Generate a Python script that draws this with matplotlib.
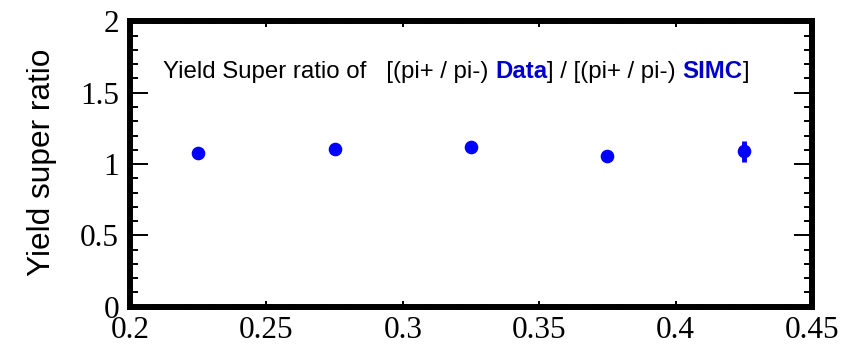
import matplotlib
matplotlib.use("Agg")
import matplotlib.pyplot as plt
from matplotlib.ticker import MultipleLocator, FuncFormatter

# Data
x_vals = [0.225, 0.275, 0.325, 0.375, 0.425]
y_vals = [1.076, 1.102, 1.123, 1.053, 1.088]
y_errs = [0.01, 0.01, 0.01, 0.01, 0.074]
x_ticks = [0.2, 0.25, 0.3, 0.35, 0.4, 0.45]
y_ticks = [0, 0.5, 1, 1.5, 2]
ylabel = "Yield super ratio"
title_parts = [("Yield Super ratio of   [(pi+ / pi-) ", "normal", "black"),
               ("Data", "bold", "#0000CC"),
               ("] / [(pi+ / pi-) ", "normal", "black"),
               ("SIMC", "bold", "#0000CC"),
               ("]", "normal", "black")]

fig = plt.figure(figsize=(8.48, 3.48), dpi=100)
ax = fig.add_axes([130/848, 1 - 306.7/348, (812-130)/848, (306.7-21.4)/348])

ax.errorbar(x_vals, y_vals, yerr=y_errs, fmt='o', color='#0000FF',
            markersize=8.8, elinewidth=3.5, capsize=0, zorder=3)

ax.set_xlim(0.2, 0.45)
ax.set_ylim(0, 2)
ax.set_xticks(x_ticks)
ax.set_yticks(y_ticks)
ax.xaxis.set_minor_locator(MultipleLocator(0.01))
ax.yaxis.set_minor_locator(MultipleLocator(0.1))
fmt = FuncFormatter(lambda v, p: "%g" % round(v, 4))
ax.xaxis.set_major_formatter(fmt)
ax.yaxis.set_major_formatter(fmt)

for s in ax.spines.values():
    s.set_linewidth(4.3)

ax.tick_params(axis='x', which='major', direction='in', top=True, bottom=True,
               length=4.5, width=1.4, pad=7)
ax.tick_params(axis='x', which='minor', direction='in', top=True, bottom=True,
               length=2.2, width=1.4)
ax.tick_params(axis='y', which='major', direction='in', left=True, right=True,
               length=13, width=1.4, pad=8)
ax.tick_params(axis='y', which='minor', direction='in', left=True, right=True,
               length=5.8, width=1.4)
for lab in ax.get_xticklabels() + ax.get_yticklabels():
    lab.set_fontfamily('Liberation Serif')
    lab.set_fontsize(22.5)

fig.text(42/848, 1 - 162/348, ylabel, rotation=90, ha='center', va='center',
         fontfamily='Liberation Sans', fontsize=22.8)

# Title composed of pieces
fig.canvas.draw()
renderer = fig.canvas.get_renderer()
x_px = 163.0
y_fig = 1 - 78/348
for txt, weight, color in title_parts:
    t = fig.text(x_px/848, y_fig, txt, ha='left', va='baseline',
                 fontfamily='Liberation Sans', fontsize=17.3,
                 fontweight=weight, color=color)
    bb = t.get_window_extent(renderer=renderer)
    x_px = bb.x1

fig.savefig("out.png", dpi=100)
